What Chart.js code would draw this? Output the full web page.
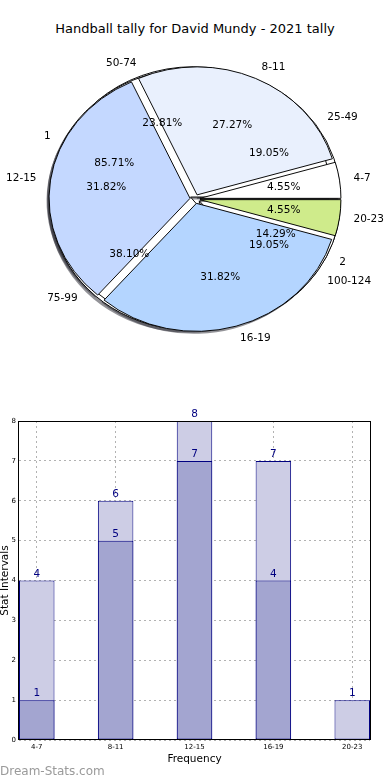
<!DOCTYPE html>
<html>
<head>
<meta charset="utf-8">
<script src="https://cdn.jsdelivr.net/npm/chart.js@4.4.0/dist/chart.umd.min.js"></script>
<style>
  html, body { margin: 0; padding: 0; background: #fff; }
  body { width: 390px; height: 780px; position: relative; overflow: hidden; font-family: "DejaVu Sans", sans-serif; }
  .title { position: absolute; top: 21px; left: 0; width: 390px; text-align: center; font-size: 13px; line-height: 16px; color: #000; }
  .pie { position: absolute; left: 0; top: 0; }
  #bar { position: absolute; left: 0; top: 400px; }
  .mark { position: absolute; left: 0; top: 764px; font-size: 12px; line-height: 14px; color: #9a9a9a; }
</style>
</head>
<body>
<div class="title">Handball tally for David Mundy - 2021 tally</div>
<canvas id="pieC" class="pie" width="390" height="398"></canvas>
<canvas id="pieB" class="pie" width="390" height="398"></canvas>
<canvas id="pieA" class="pie" width="390" height="398"></canvas>
<canvas id="bar" width="390" height="380"></canvas>
<div class="mark">Dream-Stats.com</div>
<script>
// ---- data ----
const intervalLabels = ['4-7', '8-11', '12-15', '16-19', '20-23'];
const intervalCounts = [1, 6, 7, 7, 1];
const intervalColors = ['#ffffff', '#e9f0fd', '#c4d8ff', '#b4d5ff', '#cfeb8b'];

const gameLabels = ['1', '2'];
const gameCounts = [18, 3];

const rangeLabels = ['25-49', '50-74', '75-99', '100-124'];
const rangeCounts = [4, 5, 8, 4];

const barLabels = intervalLabels;
const barLower = [1, 5, 7, 4, 0];
const barUpper = [4, 6, 8, 7, 1];

Chart.defaults.font.family = '"DejaVu Sans", sans-serif';
Chart.defaults.color = '#000';

// pie is drawn squashed vertically (matplotlib axes were not square)
const RX = 141;
const SY = 128 / 141;
const EXPLODE = 5;
const SHADOW = 'rgba(40,40,50,0.5)';
const pies = [];

function drawArcs(ctx, chart, dx, dy, fill) {
    const meta = chart.getDatasetMeta(0);
    meta.data.forEach(arc => {
        const mid = (arc.startAngle + arc.endAngle) / 2;
        ctx.save();
        ctx.translate(dx, dy);
        ctx.translate(arc.x, arc.y);
        ctx.scale(1, -SY);
        ctx.translate(-arc.x, -arc.y);
        ctx.translate(Math.cos(mid) * EXPLODE, Math.sin(mid) * EXPLODE);
        if (fill) {
            const keep = arc.options;
            arc.options = Object.assign({}, keep, { backgroundColor: fill, borderWidth: 0 });
            arc.draw(ctx);
            arc.options = keep;
        } else {
            arc.draw(ctx);
        }
        ctx.restore();
    });
}

function drawPieLabels(ctx, chart) {
    const meta = chart.getDatasetMeta(0);
    const values = chart.data.datasets[0].data;
    const total = values.reduce((a, b) => a + b, 0);
    ctx.save();
    ctx.font = '10.5px "DejaVu Sans"';
    ctx.fillStyle = '#000';
    ctx.textBaseline = 'middle';
    meta.data.forEach((arc, i) => {
        const mid = (arc.startAngle + arc.endAngle) / 2;
        const c = Math.cos(mid), s = Math.sin(mid);
        const ex = arc.x + c * EXPLODE;
        const ey = arc.y - s * EXPLODE * SY;
        const lr = 1.1 * arc.outerRadius;
        const pr = 0.6 * arc.outerRadius;
        ctx.textAlign = c >= 0 ? 'left' : 'right';
        ctx.fillText(chart.data.labels[i], ex + c * lr, ey - s * lr * SY);
        ctx.textAlign = 'center';
        ctx.fillText((values[i] / total * 100).toFixed(2) + '%', ex + c * pr, ey - s * pr * SY);
    });
    ctx.restore();
}

const pieDraw = {
    id: 'pieDraw',
    beforeDatasetsDraw(chart, args, opts) {
        const ctx = chart.ctx;
        // shadows of every pie go under all wedges
        if (opts.shadow) pies.forEach(p => drawArcs(ctx, p, -2.5, 2.5, SHADOW));
        drawArcs(ctx, chart, 0, 0, null);
        return false;
    },
    afterDraw(chart, args, opts) {
        if (opts.labels) pies.forEach(p => drawPieLabels(chart.ctx, p));
    }
};

function makePie(id, labels, counts, colors, flags) {
    return new Chart(document.getElementById(id), {
        type: 'pie',
        data: {
            labels,
            datasets: [{
                data: counts,
                backgroundColor: colors,
                borderColor: '#000',
                borderWidth: 1,
                rotation: 90,
                radius: RX
            }]
        },
        options: {
            responsive: false,
            animation: false,
            events: [],
            layout: { padding: 0 },
            plugins: {
                legend: { display: false },
                tooltip: { enabled: false },
                pieDraw: flags
            }
        },
        plugins: [pieDraw]
    });
}

pies.push(makePie('pieC', rangeLabels, rangeCounts, '#ffffff', { shadow: true, labels: false }));
pies.push(makePie('pieB', gameLabels, gameCounts, '#ffffff', { shadow: false, labels: false }));
pies.push(makePie('pieA', intervalLabels, intervalCounts, intervalColors, { shadow: false, labels: true }));
pies.forEach(p => p.draw());

// ---- bar chart ----
const GRID = 'rgba(0,0,0,0.3)';

const barExtras = {
    id: 'barExtras',
    afterDraw(chart) {
        const { ctx, chartArea: a } = chart;
        ctx.save();
        ctx.strokeStyle = '#000';
        ctx.lineWidth = 1;
        ctx.strokeRect(Math.round(a.left) - 0.5, Math.round(a.top) + 0.5,
            Math.round(a.right - a.left) + 1, Math.round(a.bottom - a.top) - 1);
        ctx.font = '10.5px "DejaVu Sans"';
        ctx.fillStyle = '#000080';
        ctx.textAlign = 'center';
        ctx.textBaseline = 'alphabetic';
        chart.data.datasets.forEach((ds, di) => {
            chart.getDatasetMeta(di).data.forEach((bar, i) => {
                const v = ds.data[i].y;
                if (!v) return;
                ctx.fillText(String(v), bar.x, bar.y - 4);
            });
        });
        ctx.restore();
    }
};

new Chart(document.getElementById('bar'), {
    type: 'bar',
    data: {
        datasets: [
            {
                label: 'total',
                data: barUpper.map((v, i) => ({ x: i, y: v })),
                backgroundColor: '#cdcde5',
                borderColor: '#000080',
                borderWidth: 1,
                borderSkipped: false,
                grouped: false,
                order: 2
            },
            {
                label: 'part',
                data: barLower.map((v, i) => ({ x: i, y: v })),
                backgroundColor: '#a3a5d0',
                borderColor: '#000080',
                borderWidth: 1,
                borderSkipped: false,
                grouped: false,
                order: 1
            }
        ]
    },
    options: {
        responsive: false,
        animation: false,
        events: [],
        categoryPercentage: 1,
        barPercentage: 0.45,
        layout: { padding: { top: 21, right: 20, left: 0, bottom: 0 } },
        plugins: {
            legend: { display: false },
            tooltip: { enabled: false }
        },
        scales: {
            x: {
                type: 'linear',
                min: -0.225,
                max: 4.225,
                offset: false,
                z: 1,
                afterBuildTicks: s => { s.ticks = barLabels.map((_, i) => ({ value: i })); },
                afterFit: s => { s.height = 40; },
                ticks: {
                    callback: v => barLabels[v],
                    font: { size: 7 },
                    color: '#000',
                    padding: 3,
                    maxRotation: 0,
                    autoSkip: false
                },
                grid: { color: GRID, drawTicks: false, offset: false },
                border: { display: false, dash: [2, 3] },
                title: {
                    display: true,
                    text: 'Frequency',
                    font: { size: 10.5 },
                    color: '#000',
                    padding: { top: 0, bottom: 14 }
                }
            },
            y: {
                min: 0,
                max: 8,
                z: 1,
                afterFit: s => { s.width = 19; },
                ticks: { stepSize: 1, font: { size: 7 }, color: '#000', padding: 3 },
                grid: { color: GRID, drawTicks: false },
                border: { display: false, dash: [2, 3] },
                title: {
                    display: true,
                    text: 'Stat Intervals',
                    font: { size: 10.5, lineHeight: 1 },
                    color: '#000',
                    padding: 0
                }
            }
        }
    },
    plugins: [barExtras]
});
</script>
</body>
</html>
